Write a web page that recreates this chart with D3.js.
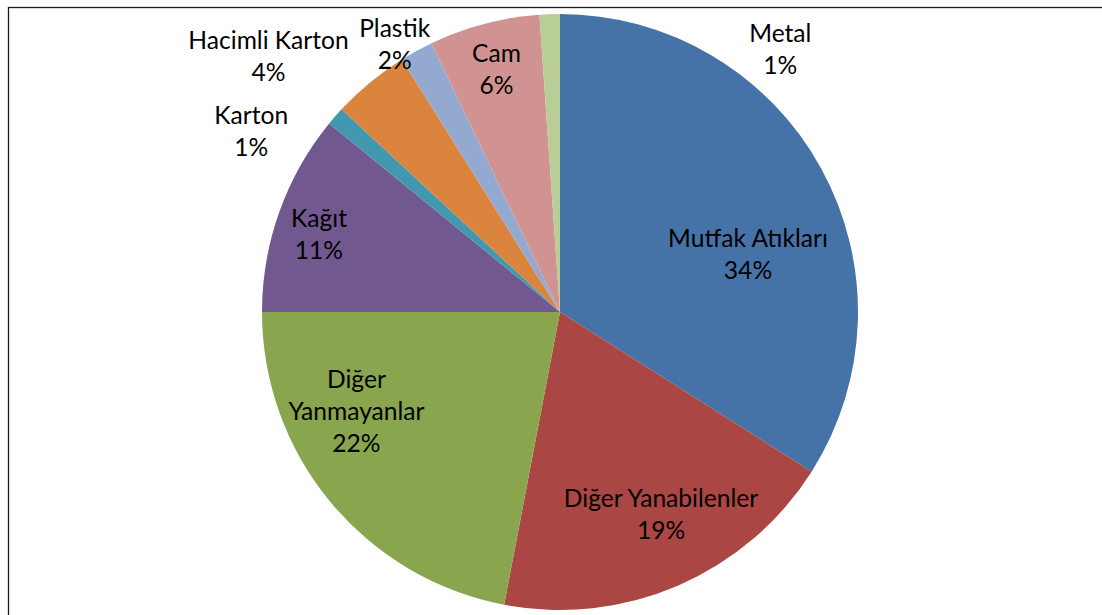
<!DOCTYPE html>
<html>
<head>
<meta charset="utf-8">
<script src="https://cdn.jsdelivr.net/npm/d3@7"></script>
<style>
  html, body { margin: 0; padding: 0; background: #ffffff; }
  svg { display: block; }
</style>
</head>
<body>
<div id="chart"></div>
<script>
// Waste composition pie chart

// Data, clockwise from 12 o'clock
var categories = ["Mutfak Atıkları", "Diğer Yanabilenler", "Diğer Yanmayanlar", "Kağıt",
    "Karton", "Hacimli Karton", "Plastik", "Cam", "Metal"];
var values = [34.0, 19.0, 22.0, 10.9, 1.0, 4.2, 1.8, 6.0, 1.1];
var percentLabels = ["34%", "19%", "22%", "11%", "1%", "4%", "2%", "6%", "1%"];
// how each category name breaks into lines
var nameLines = [["Mutfak Atıkları"], ["Diğer Yanabilenler"], ["Diğer", "Yanmayanlar"], ["Kağıt"],
    ["Karton"], ["Hacimli Karton"], ["Plastik"], ["Cam"], ["Metal"]];
var colors = ["#4572A7", "#AA4643", "#89A54E", "#71588F", "#4198AF", "#DB843D", "#93A9CF", "#D19392", "#B9CD96"];

// Label placement (best fit), polar: degrees clockwise from top, fraction of radius
var labelAngle = [72.9, 153.5, 244, 287.9, 300.3, 311.2, 328.3, 345.3, 40];
var labelRadius = [0.66, 0.76, 0.76, 0.85, 1.2, 1.3, 1.056, 0.84, 1.15];

var width = 1102;
var height = 615;
var cx = 560, cy = 312, radius = 298;
var lineHeight = 32;

var svg = d3.select("#chart").append("svg")
    .attr("width", width)
    .attr("height", height);

svg.append("rect")
    .attr("width", width)
    .attr("height", height)
    .attr("fill", "#ffffff");

// chart area frame (runs off the right and bottom)
svg.append("rect")
    .attr("x", 8.5)
    .attr("y", 7.5)
    .attr("width", 1300)
    .attr("height", 900)
    .attr("fill", "none")
    .attr("stroke", "#1a1a1a")
    .attr("stroke-width", 1.3);

var pie = d3.pie().sort(null).value(d => d);
var arcs = pie(values);
var arc = d3.arc().innerRadius(0).outerRadius(radius);

var g = svg.append("g")
    .attr("transform", "translate(" + cx + "," + cy + ")");

g.selectAll("path")
    .data(arcs)
    .enter()
    .append("path")
    .attr("d", arc)
    .attr("fill", (d, i) => colors[i]);

// labels
var lbl = g.append("g")
    .attr("font-family", "Lato, 'Open Sans', sans-serif")
    .attr("font-size", "24.6px")
    .attr("fill", "#000000")
    .attr("text-anchor", "middle");

categories.forEach(function (c, i) {
    var a = labelAngle[i] * Math.PI / 180;
    var r = labelRadius[i] * radius;
    var x = r * Math.sin(a);
    var y = -r * Math.cos(a);
    var lines = nameLines[i].concat([percentLabels[i]]);
    var n = lines.length;
    var t = lbl.append("text");
    lines.forEach(function (s, k) {
        t.append("tspan")
            .attr("x", x)
            .attr("y", y + (k - (n - 1) / 2) * lineHeight + 8.5)
            .text(s);
    });
});
</script>
</body>
</html>
